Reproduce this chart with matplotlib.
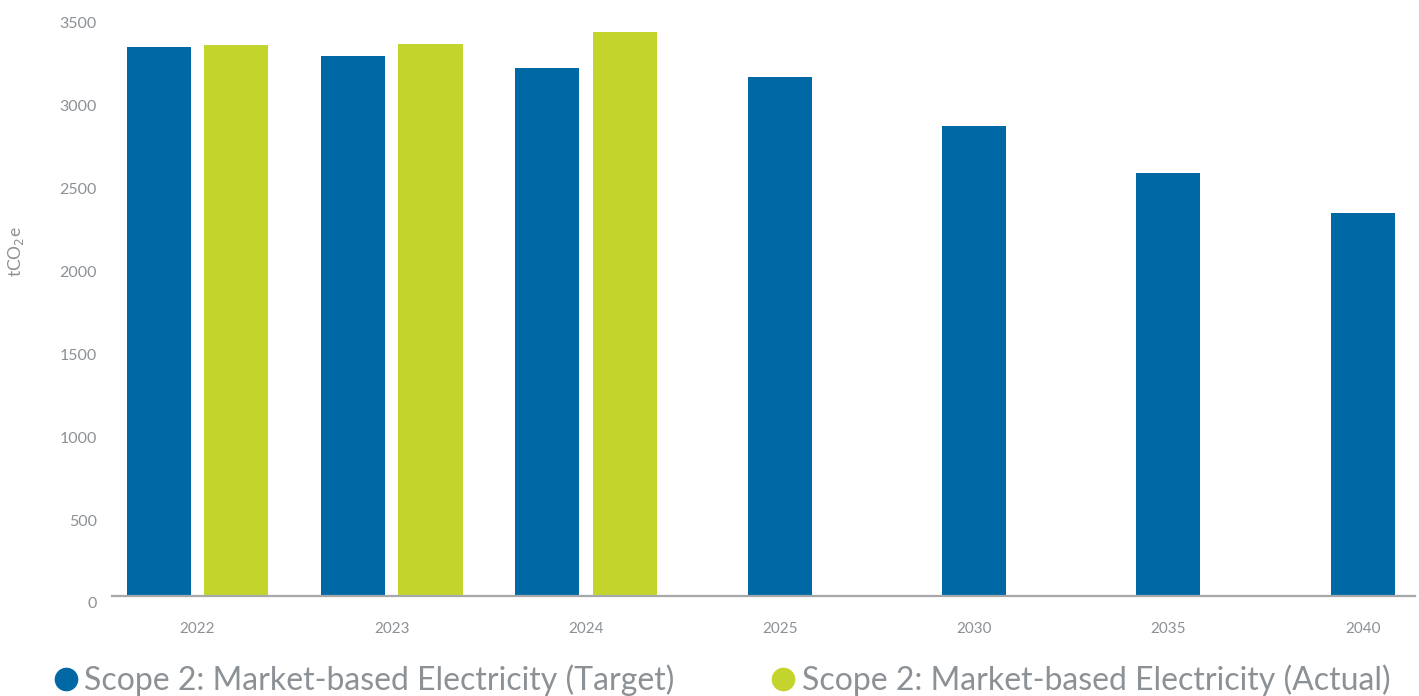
import matplotlib
matplotlib.use('Agg')
import matplotlib.pyplot as plt
import matplotlib.transforms as mtransforms
from matplotlib.lines import Line2D
import numpy as np

plt.rcParams['font.family'] = ['Lato', 'DejaVu Sans']

categories = ['2022', '2023', '2024', '2025', '2030', '2035', '2040']
target = [3311, 3257, 3185, 3130, 2835, 2551, 2310]
actual = [3323, 3329, 3402, None, None, None, None]
yticks = [0, 500, 1000, 1500, 2000, 2500, 3000, 3500]

blue = '#0069A5'
green = '#C3D52C'
grey = '#8C9196'

fig = plt.figure(figsize=(14.19, 6.96), dpi=100)
ax = fig.add_axes([112 / 1419, 100 / 696, 1303 / 1419, 580 / 696])

x = np.arange(len(categories))
w = 0.33
off = 0.2
for i in range(len(categories)):
    if actual[i] is None:
        ax.bar(x[i], target[i], width=w, color=blue)
    else:
        ax.bar(x[i] - off, target[i], width=w, color=blue)
        ax.bar(x[i] + off, actual[i], width=w, color=green)

ax.set_xlim(-0.44, 6.27)
ax.set_ylim(0, 3500)
ax.set_xticks(x)
ax.set_xticklabels(categories, fontsize=11, color=grey)
ax.set_yticks(yticks)
ax.set_yticklabels([str(v) for v in yticks], fontsize=11.5, color=grey)
ax.tick_params(axis='both', length=0)
ax.tick_params(axis='x', pad=19)
ax.tick_params(axis='y', pad=11)

# tick labels sit a little below their values in the original
shift = mtransforms.ScaledTranslation(0, -7 / 100, fig.dpi_scale_trans)
for lab in ax.get_yticklabels():
    lab.set_transform(lab.get_transform() + shift)

for s in ['top', 'right', 'left']:
    ax.spines[s].set_visible(False)
ax.spines['bottom'].set_color('#A6A8AA')
ax.spines['bottom'].set_linewidth(1.6)

fig.text(16 / 1419, 1 - 252 / 696, r'tCO$_2$e', rotation=90, ha='center', va='center',
         fontsize=12.5, color=grey)

handles = [Line2D([], [], marker='o', linestyle='none', markersize=16, color=blue),
           Line2D([], [], marker='o', linestyle='none', markersize=16, color=green)]
labels = ['Scope 2: Market-based Electricity (Target)', 'Scope 2: Market-based Electricity (Actual)']
leg = fig.legend(handles, labels, loc='center left', bbox_to_anchor=(55 / 1419, 1 - 680 / 696),
                 ncol=2, frameon=False, fontsize=23, handletextpad=0.22, columnspacing=3.05,
                 handlelength=0.7, borderpad=0, borderaxespad=0)
for t in leg.get_texts():
    t.set_color(grey)

fig.savefig('out.png', dpi=100)
